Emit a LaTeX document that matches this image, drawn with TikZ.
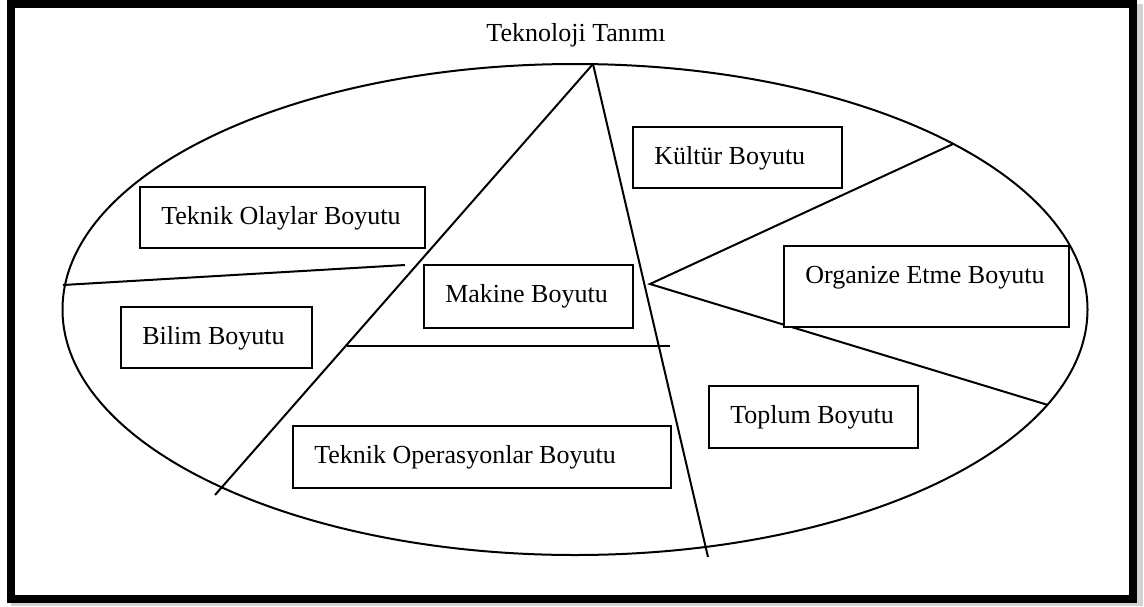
\documentclass[tikz,border=0pt]{standalone}
\usepackage{fontspec}
\setmainfont{Liberation Serif}
\usetikzlibrary{shapes.geometric}
\newcommand{\boxtxt}[2]{\makebox[#1pt][l]{\hspace*{21.5pt}#2}}
\begin{document}
\begin{tikzpicture}[x=1pt,y=-1pt,
  font=\fontsize{26}{31}\selectfont,
  box/.style={draw, line width=1.6pt, fill=white, inner xsep=0pt, inner ysep=0pt,
    anchor=north west, text height=38pt},
  edge/.style={line width=2pt}]
\useasboundingbox (0,0) rectangle (1144,606);
% shadow and frame
\fill[gray!35] (11,4) rectangle (1143,606);
\filldraw[fill=white, draw=black, line width=8pt] (11,4) rectangle (1133,599);
% title
\node[anchor=base, inner sep=0pt] (title) at (576,41) {Teknoloji Tanımı};
% oval
\node[draw, ellipse, line width=2pt, inner sep=0pt, minimum width=1025pt, minimum height=491pt] (oval) at (575,309.5) {};
% dividing lines
\coordinate (apex) at (593,64);
\coordinate (lb) at (215,495);
\coordinate (rb) at (708,557);
\coordinate (hl) at (63,285);
\coordinate (hr) at (405,265);
\coordinate (ml) at (346.5,346);
\coordinate (mr) at (670,346);
\coordinate (v) at (650,284);
\coordinate (ru) at (953,144);
\coordinate (rd) at (1048,405);
\draw[edge] (apex) -- (lb);
\draw[edge] (apex) -- (rb);
\draw[edge] (hl) -- (hr);
\draw[edge] (ml) -- (mr);
\draw[edge] (ru) -- (v) -- (rd);
% boxes
\node[box, text depth=23pt] (kultur) at (632,126) {\boxtxt{209}{Kültür Boyutu}};
\node[box, text depth=23pt] (olay) at (139,186) {\boxtxt{285}{Teknik Olaylar Boyutu}};
\node[box, text depth=23pt] (bilim) at (120,306) {\boxtxt{191}{Bilim Boyutu}};
\node[box, text depth=25pt] (makine) at (423,264) {\boxtxt{209}{Makine Boyutu}};
\node[box, text depth=43pt] (org) at (783,245) {\boxtxt{285}{Organize Etme Boyutu}};
\node[box, text depth=24pt] (toplum) at (708,385) {\boxtxt{209}{Toplum Boyutu}};
\node[box, text depth=24pt] (oper) at (292,425) {\boxtxt{378}{Teknik Operasyonlar Boyutu}};
\end{tikzpicture}
\end{document}
